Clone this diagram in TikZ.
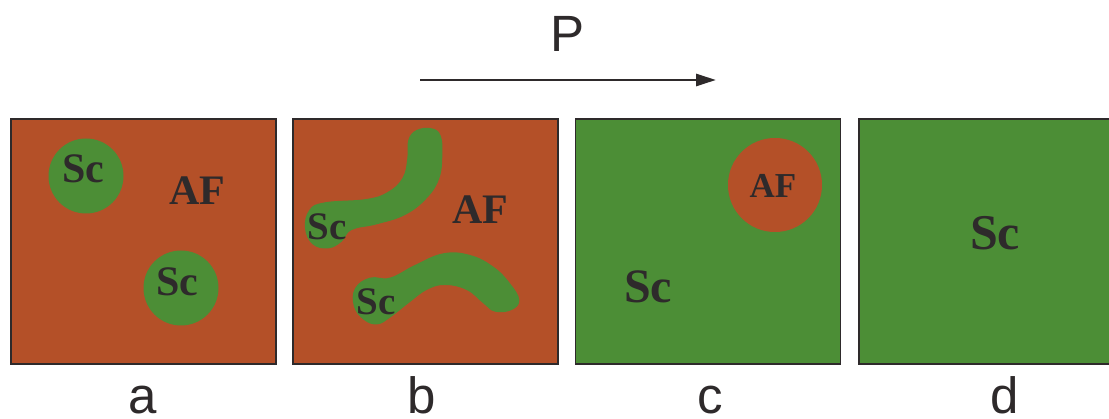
\documentclass[tikz,border=0pt]{standalone}
\usepackage{fontspec}
\setmainfont{Liberation Serif}
\newfontfamily\lsans{Liberation Sans}
\usetikzlibrary{arrows.meta}
\definecolor{afc}{HTML}{B45028}
\definecolor{scc}{HTML}{4C8E36}
\definecolor{ink}{HTML}{2E2A2B}
\tikzset{
  panel/.style={draw=ink, line width=1.2pt, minimum width=265pt, minimum height=245pt, inner sep=0pt, outer sep=0pt},
  grain/.style={circle, inner sep=0pt, outer sep=0pt, minimum size=#1},
  phase/.style={font=\bfseries\fontsize{#1}{#1}\selectfont, text=ink, inner sep=0pt},
  lab/.style={font=\lsans\fontsize{51}{51}\selectfont, text=ink, inner sep=0pt, anchor=base},
}
\begin{document}
\begin{tikzpicture}[x=1pt,y=-1pt]
\useasboundingbox (0,0) rectangle (1109,419);
\clip (0,0) rectangle (1109,419);
\fill[white] (0,0) rectangle (1109,419);

% arrow and P
\node[lab] (P) at (568,52) {P};
\coordinate (ps) at (420,80);
\coordinate (pe) at (716,80);
\draw[ink, line width=2.8pt, -{Triangle[length=20pt,width=12pt]}] (ps) -- (pe);

% panel a
\node[panel, fill=afc] (pa) at (143.5,241.5) {};
\node[grain=75pt, fill=scc] (ga1) at (86,176) {};
\node[grain=75pt, fill=scc] (ga2) at (181,288) {};
\node[phase=42] (sa1) at (83,169) {Sc};
\node[phase=42] (sa2) at (177.5,282) {Sc};
\node[phase=42] (afa) at (197.5,191) {AF};
\node[lab] (la) at (143,414) {a};

% panel b
\node[panel, fill=afc] (pb) at (425.5,241.5) {};
\begin{scope}[shift={(290pt,-115pt)}, x=0.3333pt, y=-0.3333pt]
\fill[scc] plot[smooth cycle, tension=0.7] coordinates {
 (425,40) (452,62) (457,120) (448,190) (410,250) (345,300) (260,328) (185,345)
 (155,380) (115,400) (68,388) (45,340) (58,285) (105,262) (230,252) (295,230)
 (338,188) (352,130) (355,75) (380,45)};
\fill[scc] plot[smooth cycle, tension=0.7] coordinates {
 (240,488) (300,488) (375,450) (460,415) (540,420) (610,455) (660,505) (688,555)
 (665,585) (615,590) (580,565) (530,525) (465,510) (410,525) (355,565) (300,608)
 (262,628) (222,615) (192,575) (195,520)};
\end{scope}
\node[phase=39] (sb1) at (327,227) {Sc};
\node[phase=39] (sb2) at (376,302) {Sc};
\node[phase=42] (afb) at (480,210) {AF};
\node[lab] (lb) at (422,414) {b};

% panel c
\node[panel, fill=scc] (pc) at (708,241.5) {};
\node[grain=94pt, fill=afc] (gc) at (775,185) {};
\node[phase=35] (afc1) at (773,186) {AF};
\node[phase=48] (sc1) at (648,287) {Sc};
\node[lab] (lc) at (710,414) {c};

% panel d
\node[panel, fill=scc] (pd) at (991.5,241.5) {};
\node[phase=50] (sd) at (995,233) {Sc};
\node[lab] (ld) at (1005,414) {d};
\end{tikzpicture}
\end{document}
